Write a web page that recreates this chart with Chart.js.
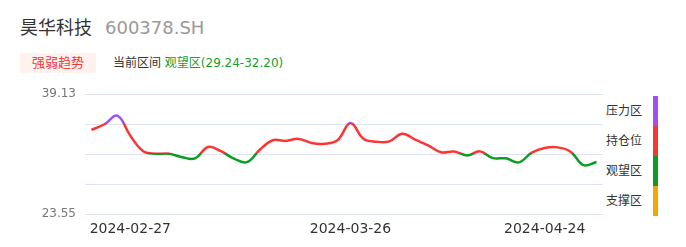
<!DOCTYPE html>
<html>
<head>
<meta charset="utf-8">
<script src="https://cdn.jsdelivr.net/npm/chart.js@4"></script>
<style>
  html, body { margin: 0; padding: 0; background: #fff; }
  body { width: 686px; height: 247px; position: relative; overflow: hidden;
         font-family: "DejaVu Sans", "Noto Sans CJK SC", sans-serif; }
  .abs { position: absolute; white-space: nowrap; }
  #wrap { position: absolute; left: 0; top: 0; width: 686px; height: 247px; }
</style>
</head>
<body>
<div class="abs" style="left:20px;top:17px;font-size:18px;line-height:22px;color:#333;">昊华科技</div>
<div class="abs" style="left:105px;top:17px;font-size:18px;line-height:22px;color:#999;">600378.SH</div>
<div class="abs" style="left:20px;top:53px;width:76px;height:20px;background:#fff1ee;"></div>
<div class="abs" style="left:20px;top:53px;width:76px;height:20px;line-height:20px;text-align:center;font-size:13px;color:#f03a3a;">强弱趋势</div>
<div class="abs" style="left:113px;top:53px;font-size:12px;line-height:20px;color:#333;">当前区间 <span style="color:#14a02a;">观望区(29.24-32.20)</span></div>
<div id="legend"></div>
<div id="wrap"><canvas id="c" width="686" height="247"></canvas></div>
<script>
const dates = [
  '2024-02-22','2024-02-23','2024-02-26','2024-02-27','2024-02-28','2024-02-29','2024-03-01','2024-03-05',
  '2024-03-06','2024-03-07','2024-03-08','2024-03-12','2024-03-13','2024-03-14','2024-03-15','2024-03-19',
  '2024-03-20','2024-03-21','2024-03-22','2024-03-25','2024-03-26','2024-03-27','2024-03-28','2024-03-29',
  '2024-04-01','2024-04-02','2024-04-03','2024-04-09','2024-04-10','2024-04-11','2024-04-12','2024-04-16',
  '2024-04-17','2024-04-18','2024-04-22','2024-04-24','2024-04-25','2024-04-26','2024-04-29','2024-04-30'
];
const prices = [
  34.46, 35.20, 36.31, 33.72, 31.70, 31.38, 31.38, 30.93, 30.77, 32.25,
  31.70, 30.73, 30.28, 31.90, 33.13, 33.04, 33.30, 32.77, 32.68, 33.13,
  35.35, 33.33, 32.94, 32.98, 33.98, 33.20, 32.46, 31.57, 31.67, 31.16,
  31.68, 30.80, 30.78, 30.25, 31.51, 32.12, 32.20, 31.64, 29.89, 30.30
];
const shownDates = ['2024-02-27', '2024-03-26', '2024-04-24'];
const yTicks = [23.55, 27.445, 31.34, 35.235, 39.13];
const yTickLabels = ['23.55', '', '', '', '39.13'];
const zoneNames = ['压力区', '持仓位', '观望区', '支撑区'];
const zoneColors = ['#a24ef5', '#fb3434', '#0c9c22', '#f7a600'];
const zoneBounds = [35.3, 31.45, 29.24]; // upper zone boundaries from top to bottom

// legend (HTML)
const legend = document.getElementById('legend');
const segTop = 96, segH = 30;
zoneNames.forEach((n, i) => {
  const bar = document.createElement('div');
  bar.className = 'abs';
  bar.style.cssText = `left:653px;top:${segTop + i*segH}px;width:5px;height:${segH}px;background:${zoneColors[i]};`;
  legend.appendChild(bar);
  const t = document.createElement('div');
  t.className = 'abs';
  t.style.cssText = `left:606px;top:${segTop + i*segH + 5}px;font-size:12px;line-height:20px;color:#333;`;
  t.textContent = n;
  legend.appendChild(t);
});

function zoneGradient(context) {
  const chart = context.chart;
  const { ctx, chartArea, scales } = chart;
  if (!chartArea) return zoneColors[1];
  const top = chartArea.top, bottom = chartArea.bottom, h = bottom - top;
  const g = ctx.createLinearGradient(0, top, 0, bottom);
  const fr = v => Math.min(1, Math.max(0, (scales.y.getPixelForValue(v) - top) / h));
  let prev = 0;
  zoneBounds.forEach((b, i) => {
    const f = fr(b);
    g.addColorStop(prev, zoneColors[i]);
    g.addColorStop(f, zoneColors[i]);
    prev = f;
  });
  g.addColorStop(prev, zoneColors[zoneColors.length - 1]);
  g.addColorStop(1, zoneColors[zoneColors.length - 1]);
  return g;
}

new Chart(document.getElementById('c'), {
  type: 'line',
  data: {
    labels: dates,
    datasets: [{
      data: prices,
      borderColor: zoneGradient,
      borderWidth: 2.5,
      pointRadius: 0,
      pointHoverRadius: 0,
      tension: 0.4,
      fill: false
    }]
  },
  options: {
    responsive: false,
    animation: false,
    events: [],
    layout: { padding: { left: 0, right: 83, top: 94, bottom: 0 } },
    plugins: { legend: { display: false }, tooltip: { enabled: false } },
    scales: {
      x: {
        type: 'category',
        offset: true,
        grid: { display: false, drawTicks: false },
        border: { display: false },
        afterFit: s => { s.height = 33; },
        ticks: {
          autoSkip: false,
          maxRotation: 0,
          padding: 7,
          color: '#333',
          font: { family: '"DejaVu Sans", sans-serif', size: 14 },
          callback: function (v) {
            const l = this.getLabelForValue(v);
            return shownDates.includes(l) ? l : '';
          }
        }
      },
      y: {
        min: 23.55,
        max: 39.13,
        afterFit: s => { s.width = 85; },
        afterBuildTicks: s => { s.ticks = yTicks.map(v => ({ value: v })); },
        grid: { color: '#dfe4f2', lineWidth: 1, drawTicks: false },
        border: { display: false },
        ticks: {
          padding: 9,
          color: '#777',
          font: { family: '"DejaVu Sans", sans-serif', size: 12 },
          callback: (v, i) => yTickLabels[i]
        }
      }
    }
  }
});
</script>
</body>
</html>
